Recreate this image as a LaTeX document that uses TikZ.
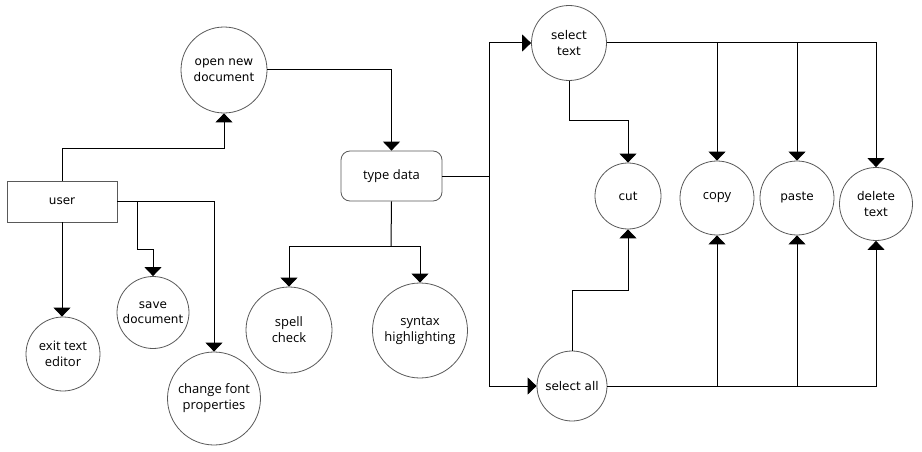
\documentclass[tikz,border=0pt]{standalone}
\usepackage{fontspec}
\setmainfont{Open Sans}
\newfontfamily\dvfont{DejaVu Sans}
\usetikzlibrary{arrows.meta}
\begin{document}
\begin{tikzpicture}[x=1pt,y=-1pt,
  font=\fontsize{13}{16}\selectfont,
  proc/.style={circle,draw=black!65,line width=0.8pt,inner sep=0pt,align=center,text=black},
  vsans/.style={font=\dvfont\fontsize{12}{15.5}\selectfont},
  arr/.style={draw=black,line width=1pt,-{Triangle[width=17pt,length=9pt]}},
  ln/.style={draw=black,line width=1pt}]
\useasboundingbox (0,0) rectangle (922,452);

% external entity and data node
\node[draw=black!65,line width=0.8pt,minimum width=110pt,minimum height=41pt,inner sep=0pt,vsans] (user) at (62,201.5) {user};
\node[draw=black!65,line width=0.8pt,rounded corners=9pt,minimum width=101pt,minimum height=50pt,inner sep=0pt] (td) at (391.5,176) {type data};

% processes
\node[proc,minimum size=86pt,vsans] (open) at (224,70) {open new\\document};
\node[proc,minimum size=74pt] (exit) at (63,354) {exit text\\editor};
\node[proc,minimum size=72pt,vsans] (save) at (153,312.5) {save\\document};
\node[proc,minimum size=93pt] (font) at (214,398.5) {change font\\properties};
\node[proc,minimum size=86pt] (spell) at (289,330) {spell\\check};
\node[proc,minimum size=95pt] (syn) at (420,330.5) {syntax\\highlighting};
\node[proc,minimum size=75pt,vsans] (st) at (569,43) {select\\text};
\node[proc,minimum size=70pt,vsans] (sa) at (572,386) {select all};
\node[proc,minimum size=66pt,vsans] (cut) at (628,196) {cut};
\node[proc,minimum size=74pt] (copy) at (717,198) {copy};
\node[proc,minimum size=74pt,vsans] (paste) at (797,198) {paste};
\node[proc,minimum size=73pt,vsans] (del) at (876,204) {delete\\text};

% bend points
\coordinate (uo) at (62,148);
\coordinate (us) at (137,249);
\coordinate (tsplit) at (391,246);
\coordinate (tb) at (489,176);
\coordinate (stc) at (568,121);
\coordinate (sac) at (572,290);

% user flows
\draw[arr] (user.north) |- (uo) -| (open.south);
\draw[arr] (user.south) -- (user.south |- exit.north);
\draw[arr] (user.east) -| (us) -| (save.north);
\draw[arr] (user.east) -| (font.north);

% editing flows
\draw[arr] (open.east) -| (td.north);
\draw[ln] (td.south) -- (tsplit);
\draw[arr] (tsplit) -| (spell.north);
\draw[arr] (tsplit) -| (syn.north);
\draw[ln] (td.east) -- (tb);
\draw[arr] (tb) |- (st.west);
\draw[arr] (tb) |- (sa.west);

% selection to actions
\draw[ln] (st.south) -- (stc -| st.south);
\draw[arr] (stc -| st.south) -| (cut.north);
\draw[arr] (st.east) -| (copy.north);
\draw[arr] (st.east) -| (paste.north);
\draw[arr] (st.east) -| (del.north);
\draw[arr] (sa.north) |- (sac) -| (cut.south);
\draw[arr] (sa.east) -| (copy.south);
\draw[arr] (sa.east) -| (paste.south);
\draw[arr] (sa.east) -| (del.south);
\end{tikzpicture}
\end{document}
